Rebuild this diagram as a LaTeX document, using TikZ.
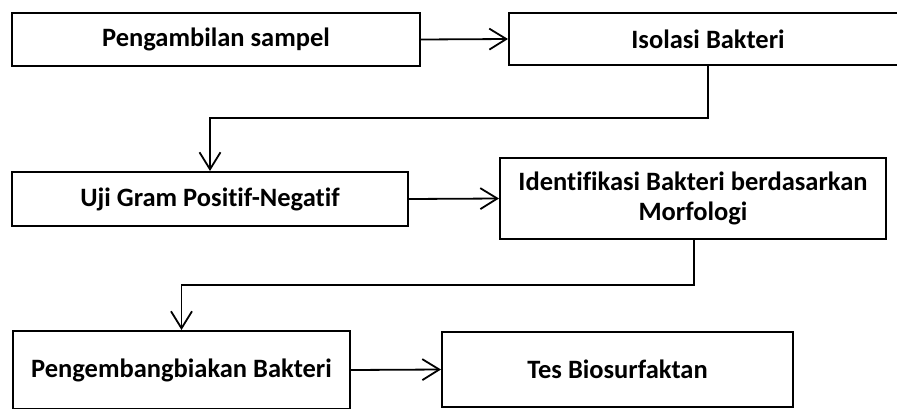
\documentclass[tikz,border=0pt]{standalone}
\usepackage{fontspec}
\setmainfont{Carlito}[Ligatures=NoCommon]
\usetikzlibrary{arrows.meta}
\begin{document}
\begin{tikzpicture}[x=1pt,y=-1pt,
  box/.style={draw=black,line width=2pt,rectangle,inner sep=0pt,align=center,
    font=\fontsize{26.5}{30}\selectfont\bfseries},
  conn/.style={line width=1.8pt,-{Straight Barb[length=17pt,width=21pt,line width=1.8pt]}}]
\useasboundingbox (0,0) rectangle (897,408);
\node[box,minimum width=408pt,minimum height=53pt] (b1) at (216,39.5) {Pengambilan sampel};
\node[box,minimum width=398pt,minimum height=52pt] (b2) at (708,39) {Isolasi Bakteri};
\node[box,minimum width=396pt,minimum height=54pt] (b3) at (210,199) {Uji Gram Positif-Negatif};
\node[box,minimum width=386pt,minimum height=81pt] (b4) at (693,198.5) {Identifikasi Bakteri berdasarkan\\Morfologi};
\node[box,minimum width=337pt,minimum height=78pt] (b5) at (181.5,370) {Pengembangbiakan Bakteri};
\node[box,minimum width=351pt,minimum height=75pt] (b6) at (617.5,369.5) {Tes Biosurfaktan};
\coordinate (k1) at (708,118);
\coordinate (k2) at (210,118);
\coordinate (k3) at (694,285);
\coordinate (k4) at (181.5,285);
\draw[conn] (b1.east) -- (b2.west);
\draw[conn] (b2.south -| k1) -- (k1) -- (k2) -- (b3.north);
\draw[conn] (b3.east) -- (b4.west);
\draw[conn] (b4.south -| k3) -- (k3) -- (k4) -- (b5.north);
\draw[conn] (b5.east) -- (b6.west);
\end{tikzpicture}
\end{document}
